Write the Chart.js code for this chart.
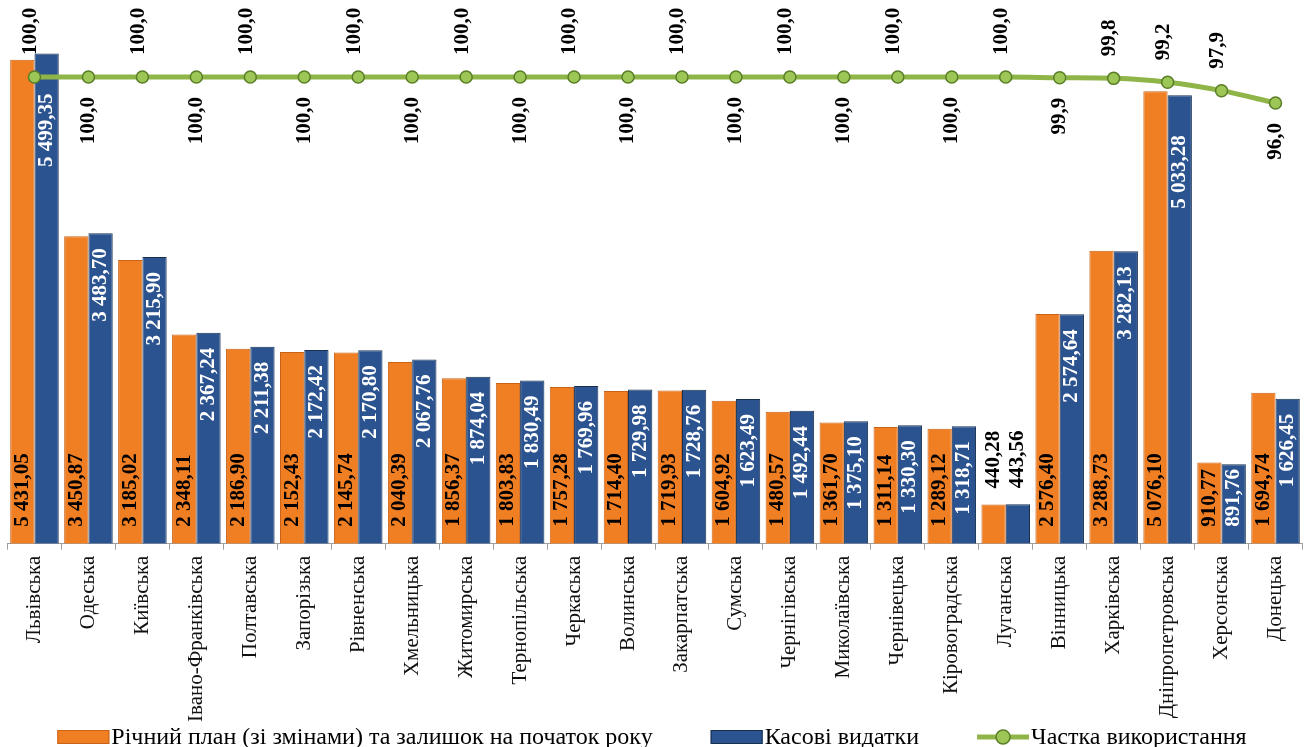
<!DOCTYPE html>
<html lang="uk">
<head>
<meta charset="UTF-8">
<title>Видатки за областями</title>
<script src="https://cdn.jsdelivr.net/npm/chart.js"></script>
<style>
  html, body { margin: 0; padding: 0; background: #fff; overflow: hidden; }
  .wrap { position: relative; width: 1310px; height: 747px; }
</style>
</head>
<body>
<div class="wrap"><canvas id="budgetChart"></canvas></div>
<script>
const regions = ['Львівська', 'Одеська', 'Київська', 'Івано-Франківська', 'Полтавська', 'Запорізька',
  'Рівненська', 'Хмельницька', 'Житомирська', 'Тернопільська', 'Черкаська', 'Волинська',
  'Закарпатська', 'Сумська', 'Чернігівська', 'Миколаївська', 'Чернівецька', 'Кіровоградська',
  'Луганська', 'Вінницька', 'Харківська', 'Дніпропетровська', 'Херсонська', 'Донецька'];

// річний план (зі змінами) та залишок на початок року
const planValues = [5431.05, 3450.87, 3185.02, 2348.11, 2186.90, 2152.43, 2145.74, 2040.39,
  1856.37, 1803.83, 1757.28, 1714.40, 1719.93, 1604.92, 1480.57, 1361.70, 1311.14, 1289.12,
  440.28, 2576.40, 3288.73, 5076.10, 910.77, 1694.74];

// касові видатки
const spentValues = [5499.35, 3483.70, 3215.90, 2367.24, 2211.38, 2172.42, 2170.80, 2067.76,
  1874.04, 1830.49, 1769.96, 1729.98, 1728.76, 1623.49, 1492.44, 1375.10, 1330.30, 1318.71,
  443.56, 2574.64, 3282.13, 5033.28, 891.76, 1626.45];

// частка використання, %
const usageShare = [100.0, 100.0, 100.0, 100.0, 100.0, 100.0, 100.0, 100.0, 100.0, 100.0,
  100.0, 100.0, 100.0, 100.0, 100.0, 100.0, 100.0, 100.0, 100.0, 99.9, 99.8, 99.2, 97.9, 96.0];

const seriesNames = ['Річний план (зі змінами) та залишок на початок року', 'Касові видатки', 'Частка використання'];

const ORANGE = '#F07E23';
const BLUE = '#2B5390';
const GREEN = '#8FB548';
const SERIF = '"Liberation Serif", "Times New Roman", serif';

// 5431.05 -> "5 431,05"
const fmt = (v, digits) => {
  const [int, frac] = v.toFixed(digits).split('.');
  const grouped = int.replace(/\B(?=(\d{3})+(?!\d))/g, ' ');
  return frac ? grouped + ',' + frac : grouped;
};

const drawUp = (ctx, text, x, y, align, color) => {
  ctx.save();
  ctx.translate(x, y);
  ctx.rotate(-Math.PI / 2);
  ctx.textAlign = align;
  ctx.textBaseline = 'middle';
  ctx.fillStyle = color;
  ctx.fillText(text, 0, 0);
  ctx.restore();
};

// value labels on bars and on the line
const valueLabels = {
  id: 'valueLabels',
  afterDatasetsDraw(chart) {
    const ctx = chart.ctx;
    ctx.font = 'bold 21px ' + SERIF;

    chart.getDatasetMeta(0).data.forEach((bar, i) => {
      const text = fmt(planValues[i], 2);
      const w = ctx.measureText(text).width;
      if (bar.base - bar.y < w + 18) {
        drawUp(ctx, text, bar.x, bar.y - 16, 'left', '#000');
      } else {
        drawUp(ctx, text, bar.x, bar.base - 17, 'left', '#000');
      }
    });

    chart.getDatasetMeta(1).data.forEach((bar, i) => {
      const text = fmt(spentValues[i], 2);
      const w = ctx.measureText(text).width;
      const h = bar.base - bar.y;
      if (h < w + 18) {
        drawUp(ctx, text, bar.x, bar.y - 16, 'left', '#000');
      } else {
        // tall bars reaching the line get their label pushed below it
        const end = bar.y + (bar.y < 110 ? 40 : 15);
        if (end + w > bar.base - 17) {
          drawUp(ctx, text, bar.x, bar.base - 17, 'left', '#fff');
        } else {
          drawUp(ctx, text, bar.x, end, 'right', '#fff');
        }
      }
    });

    chart.getDatasetMeta(2).data.forEach((pt, i) => {
      const text = fmt(usageShare[i], 1);
      // alternate above / below, Дніпропетровська stays above to clear its bar
      const below = i % 2 === 1 && i !== 21;
      if (below) {
        drawUp(ctx, text, pt.x, pt.y + 20, 'right', '#000');
      } else {
        drawUp(ctx, text, pt.x - 4, pt.y - 22, 'left', '#000');
      }
    });
  }
};

// single-row legend under the axis labels
const bottomLegend = {
  id: 'bottomLegend',
  afterDraw(chart) {
    const ctx = chart.ctx;
    const sets = chart.data.datasets;
    const boxW = 52, boxH = 14, gap = 2, spacing = 58;
    const cy = 737;
    ctx.save();
    ctx.font = '24px ' + SERIF;
    ctx.textBaseline = 'middle';
    const widths = sets.map(ds => boxW + gap + ctx.measureText(ds.label).width);
    const total = widths.reduce((a, b) => a + b, 0) + spacing * (sets.length - 1);
    let x = 652 - total / 2;
    sets.forEach((ds, i) => {
      if (ds.type === 'line') {
        ctx.strokeStyle = ds.borderColor;
        ctx.lineWidth = 5;
        ctx.beginPath();
        ctx.moveTo(x, cy);
        ctx.lineTo(x + boxW, cy);
        ctx.stroke();
        ctx.beginPath();
        ctx.arc(x + boxW / 2, cy, 7, 0, Math.PI * 2);
        ctx.fillStyle = ds.pointBackgroundColor;
        ctx.fill();
        ctx.lineWidth = 1.5;
        ctx.strokeStyle = ds.pointBorderColor;
        ctx.stroke();
      } else {
        ctx.fillStyle = ds.backgroundColor;
        ctx.fillRect(x, cy - boxH / 2, boxW, boxH);
        ctx.lineWidth = 1;
        ctx.strokeStyle = ds.borderColor;
        ctx.strokeRect(x + 0.5, cy - boxH / 2 + 0.5, boxW - 1, boxH - 1);
      }
      ctx.fillStyle = '#000';
      ctx.fillText(ds.label, x + boxW + gap, cy + 1);
      x += widths[i] + spacing;
    });
    ctx.restore();
  }
};

new Chart(document.getElementById('budgetChart'), {
  data: {
    labels: regions,
    datasets: [
      {
        type: 'bar',
        label: seriesNames[0],
        data: planValues,
        backgroundColor: ORANGE,
        borderColor: '#C9631A',
        borderWidth: 1,
        categoryPercentage: 0.9,
        barPercentage: 1.0,
        yAxisID: 'y',
        order: 1
      },
      {
        type: 'bar',
        label: seriesNames[1],
        data: spentValues,
        backgroundColor: BLUE,
        borderColor: '#17304F',
        borderWidth: 1,
        categoryPercentage: 0.9,
        barPercentage: 1.0,
        yAxisID: 'y',
        order: 2
      },
      {
        type: 'line',
        label: seriesNames[2],
        data: usageShare,
        borderColor: GREEN,
        borderWidth: 5,
        pointRadius: 6,
        pointBackgroundColor: '#9CC655',
        pointBorderColor: '#5A7E27',
        pointBorderWidth: 1.5,
        cubicInterpolationMode: 'monotone',
        yAxisID: 'y1',
        order: 0
      }
    ]
  },
  options: {
    responsive: true,
    maintainAspectRatio: false,
    animation: false,
    events: [],
    layout: { padding: { top: 9, left: 7, right: 0, bottom: 19 } },
    plugins: {
      legend: { display: false },
      tooltip: { enabled: false }
    },
    scales: {
      x: {
        offset: true,
        grid: { display: true, drawOnChartArea: false, color: '#a0a0a0', tickLength: 6, offset: true },
        border: { color: '#a0a0a0' },
        ticks: {
          autoSkip: false,
          minRotation: 90,
          maxRotation: 90,
          padding: 6,
          color: '#111',
          font: { family: SERIF, size: 21 }
        }
      },
      y: { display: false, min: 0, max: 6000 },
      y1: { display: false, min: 28, max: 110.5 }
    }
  },
  plugins: [valueLabels, bottomLegend]
});
</script>
</body>
</html>
